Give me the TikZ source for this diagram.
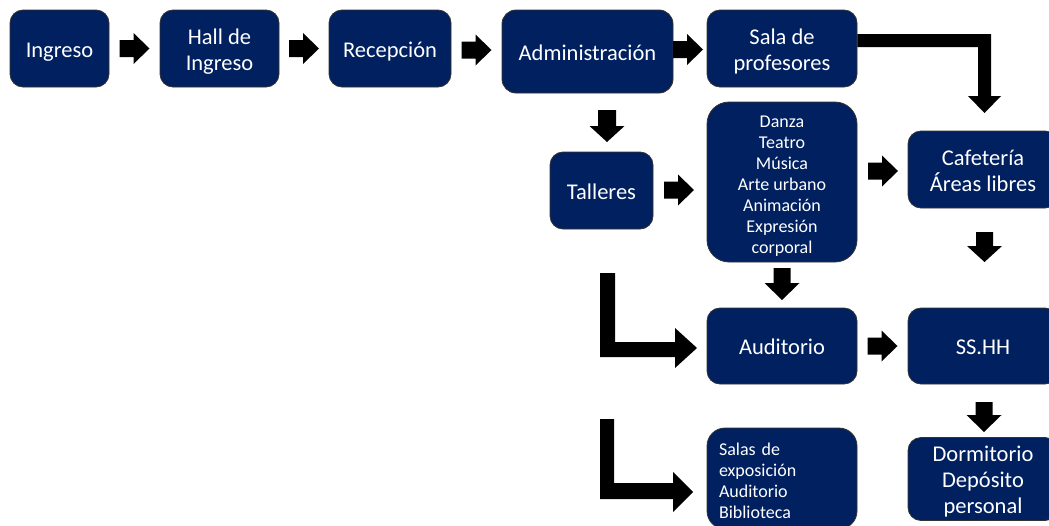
\documentclass[tikz,border=0pt]{standalone}
\usepackage{fontspec}
\setmainfont{Carlito}
\usetikzlibrary{calc}
\definecolor{navy}{RGB}{0,32,96}
\newcommand\bst{\rule{0pt}{22pt}}
\newcommand\bdt{\rule[-5pt]{0pt}{5pt}}
\newcommand\sst{\rule{0pt}{19pt}}
\newcommand\sdt{\rule[-3pt]{0pt}{3pt}}
\tikzset{
  box/.style={rectangle, rounded corners=13pt, fill=navy, draw=black!80, line width=0.8pt,
    text=white, align=center, inner sep=2pt, font=\fontsize{22.5}{26}\selectfont},
  small/.style={font=\fontsize{18}{21}\selectfont},
  pics/blk/.style n args={4}{code={
    \fill[black] (-#1/2,-#3/2) -- ({#1/2-#4},-#3/2) -- ({#1/2-#4},-#2/2) -- (#1/2,0)
      -- ({#1/2-#4},#2/2) -- ({#1/2-#4},#3/2) -- (-#1/2,#3/2) -- cycle;}},
  elbow/.style={fill=black}
}
\begin{document}
\begin{tikzpicture}[x=1pt,y=-1pt]
\useasboundingbox (0,0) rectangle (1049,525);
% top row
\node[box, minimum width=99pt, minimum height=77pt] (ingreso) at (59.5,48.5) {\bst Ingreso\bdt};
\node[box, minimum width=119pt, minimum height=77pt] (hall) at (219.5,48.5) {\bst Hall de\\Ingreso\bdt};
\node[box, minimum width=122pt, minimum height=77pt] (recep) at (390,48.5) {\bst Recepción\bdt};
\node[box, minimum width=171pt, minimum height=83pt, rounded corners=14pt] (admin) at (587.5,51.5) {\bst Administración\bdt};
\node[box, minimum width=150pt, minimum height=77pt] (sala) at (782,48.5) {\bst Sala de\\profesores\bdt};
% second row
\node[box, minimum width=103pt, minimum height=77pt] (talleres) at (601.5,190.5) {\bst Talleres\bdt};
\node[box, small, minimum width=150pt, minimum height=160pt, rounded corners=22pt] (lista) at (782,182)
  {\sst Danza\\Teatro\\Música\\Arte urbano\\Animación\\Expresión\\corporal\sdt};
\node[box, minimum width=150pt, minimum height=77pt] (cafe) at (983,169.5) {\bst Cafetería\\Áreas libres\bdt};
% third row
\node[box, minimum width=150pt, minimum height=76pt] (audit) at (782,346) {\bst Auditorio\bdt};
\node[box, minimum width=150pt, minimum height=76pt] (sshh) at (983,346) {\bst SS.HH\bdt};
% fourth row
\node[box, small, minimum width=150pt, minimum height=101pt, rounded corners=18pt,
  text width=126pt, align=left, inner xsep=12pt] (salas) at (782,478.5)
  {\sst Salas de\\exposición\\Auditorio\\Biblioteca\sdt};
\node[box, minimum width=150pt, minimum height=78pt] (dorm) at (983,479) {\bst Dormitorio\\Depósito\\personal\bdt};
% block arrows
\pic at ($(ingreso.east)!0.5!(hall.west)$) {blk={30}{31}{17}{16}};
\pic at ($(hall.east)!0.5!(recep.west)$) {blk={30}{31}{17}{16}};
\pic at ($(recep.east)!0.5!(admin.west)$) {blk={30}{31}{17}{16}};
\pic at (688,49.5) {blk={30}{31}{17}{16}};
\pic at (679,190) {blk={30}{31}{17}{16}};
\pic at (883,171) {blk={30}{31}{17}{16}};
\pic at ($(audit.east)!0.5!(sshh.west)$) {blk={30}{31}{17}{16}};
\pic[rotate=-90] at (607,126) {blk={32}{35}{18}{16}};
\pic[rotate=-90] at (782,284) {blk={32}{35}{17}{17}};
\pic[rotate=-90] at (984.5,247) {blk={30}{35}{17}{16}};
\pic[rotate=-90] at (984,417) {blk={30}{35}{17}{17}};
% elbow arrows
\fill[elbow] (sala.east |- 0,34) -- (991,34) -- (991,96) -- (1001,96) -- (984.5,113) -- (968,96)
  -- (978,96) -- (978,47) -- (sala.east |- 0,47) -- cycle;
\coordinate (e1) at (600,273);
\fill[elbow] (e1) -- (615,273) -- (615,342) -- (675,342) -- (675,328) -- (697,348) -- (675,368)
  -- (675,357) -- (600,357) -- cycle;
\coordinate (e2) at (600,419);
\fill[elbow] (e2) -- (614,419) -- (614,483) -- (673,483) -- (673,472) -- (693,492) -- (673,512)
  -- (673,499) -- (600,499) -- cycle;
\end{tikzpicture}
\end{document}
